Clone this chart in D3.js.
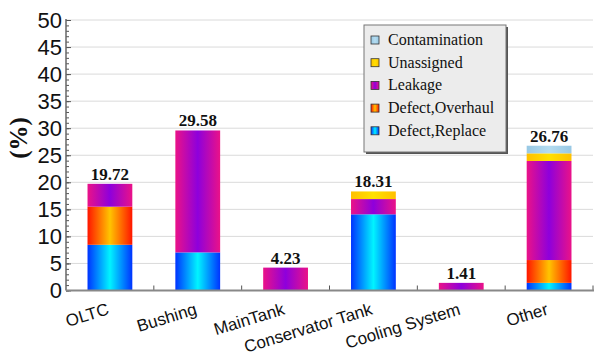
<!DOCTYPE html>
<html>
<head>
<meta charset="utf-8">
<script src="https://cdn.jsdelivr.net/npm/d3@7"></script>
<style>
  html, body { margin: 0; padding: 0; background: #fff; }
  svg { display: block; }
</style>
</head>
<body>
<svg id="chart" width="597" height="356"></svg>
<script>
// Failure share by component (%), stacked by failure cause
const categories = ["OLTC", "Bushing", "MainTank", "Conservator Tank", "Cooling System", "Other"];
const causes = ["Defect,Replace", "Defect,Overhaul", "Leakage", "Unassigned", "Contamination"];

const defectReplace  = [8.45, 7.04, 0,    14.08, 0,    1.41];
const defectOverhaul = [7.04, 0,    0,    0,     0,    4.22];
const leakage        = [4.23, 22.54, 4.23, 2.82, 1.41, 18.31];
const unassigned     = [0,    0,    0,    1.41,  0,    1.41];
const contamination  = [0,    0,    0,    0,     0,    1.41];

const yTicks = [0, 5, 10, 15, 20, 25, 30, 35, 40, 45, 50];

const seriesValues = [defectReplace, defectOverhaul, leakage, unassigned, contamination];

const rows = categories.map((c, i) => {
  const r = { category: c };
  causes.forEach((k, j) => { r[k] = seriesValues[j][i]; });
  return r;
});
const totals = categories.map((c, i) => d3.sum(seriesValues, s => s[i]));

const svg = d3.select("#chart");
const plotLeft = 66, plotRight = 593, plotTop = 20, plotBottom = 290.5;

const xSlot = d3.scaleBand().domain(categories).range([plotLeft, plotRight]).padding(0);
const xBar = d3.scaleBand().domain(categories).range([plotLeft, plotRight])
  .paddingInner(0.49).paddingOuter(0.245);
const y = d3.scaleLinear().domain([0, 50]).range([plotBottom, plotTop]);

// Horizontal gradients for each cause: [edge, centre]
const gradStops = {
  "Defect,Replace":  ["#0033ff", "#00f4ff"],
  "Defect,Overhaul": ["#ff1500", "#ffc400"],
  "Leakage":         ["#ea1288", "#8e00dc"],
  "Unassigned":      ["#ffc000", "#ffe000"],
  "Contamination":   ["#98c8e4", "#b4dcf0"]
};
const defs = svg.append("defs");
causes.forEach((k, i) => {
  const g = defs.append("linearGradient").attr("id", "grad" + i)
    .attr("x1", "0%").attr("x2", "100%").attr("y1", "0%").attr("y2", "0%");
  g.append("stop").attr("offset", "0%").attr("stop-color", gradStops[k][0]);
  g.append("stop").attr("offset", "50%").attr("stop-color", gradStops[k][1]);
  g.append("stop").attr("offset", "100%").attr("stop-color", gradStops[k][0]);
});

// Gridlines
svg.append("g")
  .selectAll("line").data(yTicks.filter(t => t > 0)).join("line")
  .attr("x1", plotLeft).attr("x2", plotRight)
  .attr("y1", d => y(d)).attr("y2", d => y(d))
  .attr("stroke", "#dadada").attr("stroke-width", 1);

// Stacked bars
const stacked = d3.stack().keys(causes)(rows);
svg.append("g").selectAll("g").data(stacked).join("g")
  .attr("fill", (d, i) => `url(#grad${i})`)
  .selectAll("rect").data(d => d.filter(s => s[1] - s[0] > 0)).join("rect")
  .attr("x", d => xBar(d.data.category))
  .attr("width", xBar.bandwidth())
  .attr("y", d => y(d[1]))
  .attr("height", d => y(d[0]) - y(d[1]));

// Total labels
svg.append("g").selectAll("text").data(categories).join("text")
  .attr("x", d => xBar(d) + xBar.bandwidth() / 2)
  .attr("y", (d, i) => y(totals[i]) - 4)
  .attr("text-anchor", "middle")
  .attr("font-family", "Liberation Serif, Times New Roman, serif")
  .attr("font-weight", "bold").attr("font-size", 17)
  .attr("fill", "#111")
  .text((d, i) => d3.format(".2f")(totals[i]));

// Y axis: ticks drawn inward with minor ticks every unit
const yAxis = svg.append("g").attr("transform", `translate(${plotLeft},0)`);
yAxis.call(d3.axisRight(y).tickValues(d3.range(0, 51, 1)).tickSize(3).tickFormat(""))
  .call(g => g.select(".domain").remove())
  .call(g => g.selectAll("line").attr("stroke", "#555"));
yAxis.append("g").call(d3.axisRight(y).tickValues(yTicks).tickSize(5).tickFormat(""))
  .call(g => g.select(".domain").remove())
  .call(g => g.selectAll("line").attr("stroke", "#555"));
yAxis.append("line").attr("x1", 0).attr("x2", 0).attr("y1", plotTop - 1).attr("y2", plotBottom)
  .attr("stroke", "#666").attr("stroke-width", 1.5);
svg.append("g").selectAll("text").data(yTicks).join("text")
  .attr("x", plotLeft - 4).attr("y", d => y(d))
  .attr("dy", "0.36em")
  .attr("text-anchor", "end")
  .attr("font-family", "Liberation Sans, Arial, sans-serif")
  .attr("font-size", 22).attr("fill", "#111")
  .text(d => d);

// X axis: slot boundary ticks point up
const xAxis = svg.append("g").attr("transform", `translate(0,${plotBottom})`);
xAxis.selectAll("line.tick").data(categories).join("line")
  .attr("class", "tick")
  .attr("x1", d => xSlot(d) + xSlot.bandwidth()).attr("x2", d => xSlot(d) + xSlot.bandwidth())
  .attr("y1", 0).attr("y2", -5)
  .attr("stroke", "#555");
xAxis.append("line").attr("x1", plotLeft).attr("x2", plotRight + 1).attr("y1", 0).attr("y2", 0)
  .attr("stroke", "#888").attr("stroke-width", 2);

// Category labels
svg.append("g").selectAll("text").data(categories).join("text")
  .attr("transform", d => `translate(${xSlot(d) + xSlot.bandwidth() / 2},314) rotate(-17)`)
  .attr("text-anchor", "end")
  .attr("font-family", "Liberation Sans, Arial, sans-serif")
  .attr("font-size", 17).attr("fill", "#111")
  .text(d => d);

// Y axis title
svg.append("text")
  .attr("transform", "translate(27,138) rotate(-90)")
  .attr("text-anchor", "middle")
  .attr("font-family", "Liberation Serif, Times New Roman, serif")
  .attr("font-weight", "bold").attr("font-size", 25).attr("fill", "#111")
  .text("(%)");

// Legend
const legendOrder = causes.slice().reverse();
const lg = svg.append("g").attr("transform", "translate(364,25)");
lg.append("rect").attr("x", 2).attr("y", 2).attr("width", 142).attr("height", 127).attr("fill", "#555");
lg.append("rect").attr("x", 0).attr("y", 0).attr("width", 142).attr("height", 127)
  .attr("fill", "#ececec").attr("stroke", "#777").attr("stroke-width", 1);
const items = lg.selectAll("g.item").data(legendOrder).join("g")
  .attr("class", "item")
  .attr("transform", (d, i) => `translate(0,${20 + i * 22.7})`);
items.append("rect").attr("x", 7).attr("y", -9).attr("width", 8).attr("height", 8)
  .attr("fill", d => `url(#grad${causes.indexOf(d)})`)
  .attr("stroke", "#333").attr("stroke-width", 0.8);
items.append("text").attr("x", 24).attr("y", 0)
  .attr("font-family", "Liberation Serif, Times New Roman, serif")
  .attr("font-size", 16).attr("fill", "#111")
  .text(d => d);
</script>
</body>
</html>
